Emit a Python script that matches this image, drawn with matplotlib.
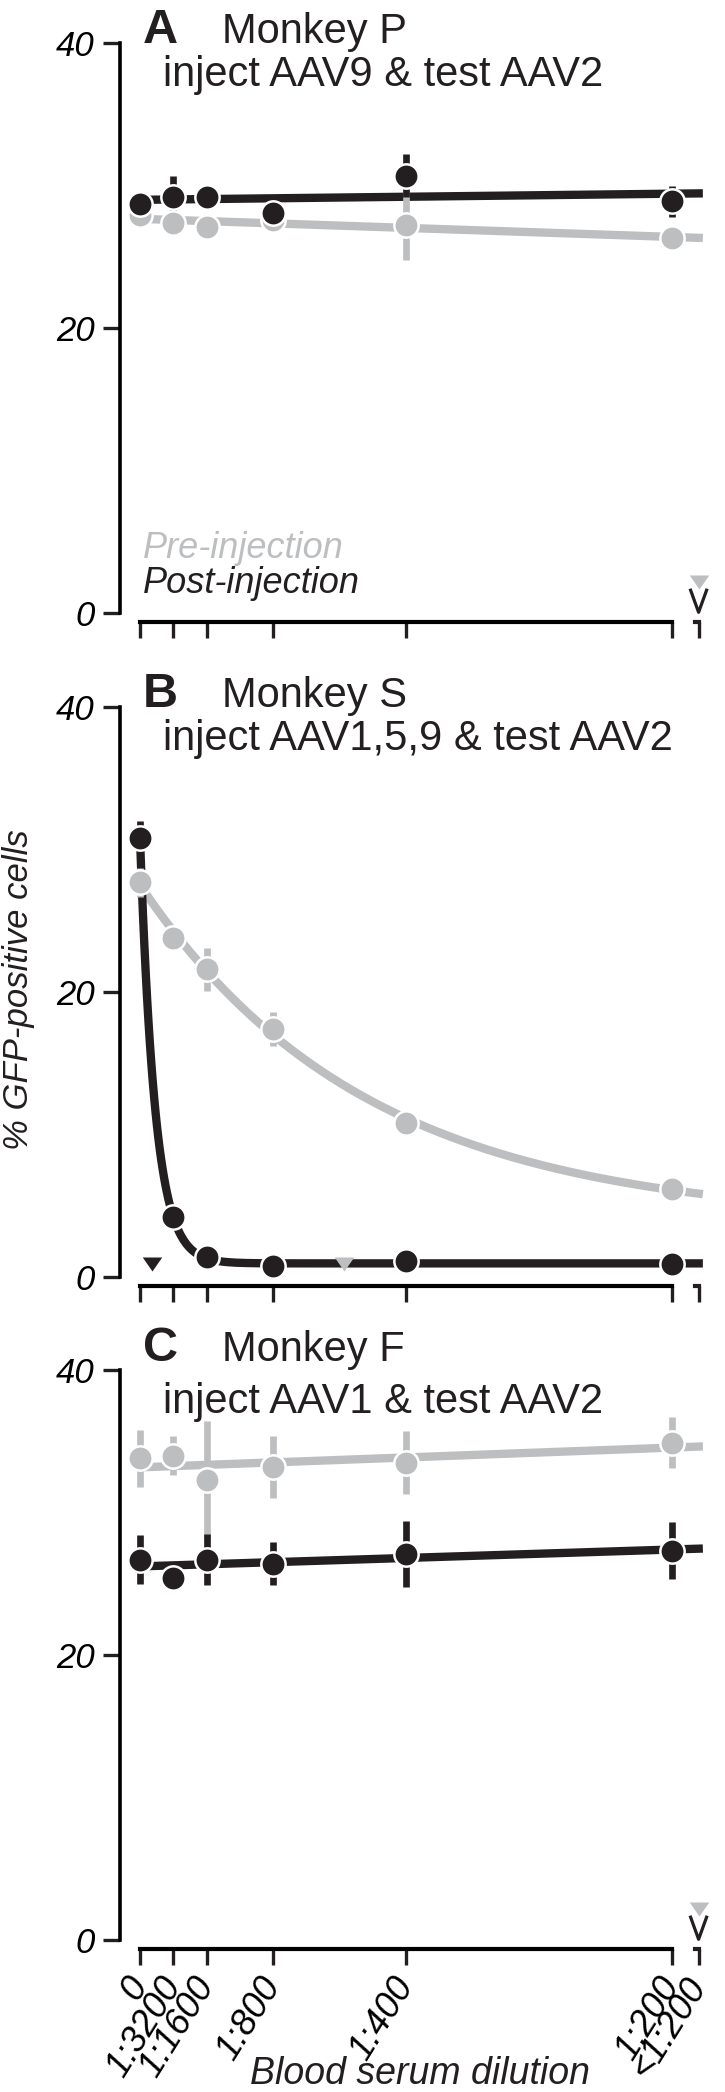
import matplotlib
matplotlib.use("Agg")
import matplotlib.pyplot as plt
import matplotlib.transforms as mtransforms
import numpy as np

plt.rcParams['font.family'] = ['Liberation Sans', 'DejaVu Sans']

GRAY = '#bcbec0'
BLACK = '#231f20'

# serum concentration, as a fraction of the 1:200 dilution
conc = [0, 1/16, 1/8, 1/4, 1/2, 1]
tick_pos = [0, 1/16, 1/8, 1/4, 1/2, 1, 1.05]
tick_labels = ['0', '1:3200', '1:1600', '1:800', '1:400', '1:200', '<1:200']

titles = ['A', 'B', 'C']
monkeys = ['Monkey P', 'Monkey S', 'Monkey F']
subtitles = ['inject AAV9 & test AAV2',
             'inject AAV1,5,9 & test AAV2',
             'inject AAV1 & test AAV2']

# % GFP-positive cells, pre-injection serum (gray)
pre_P = [27.9, 27.4, 27.1, 27.6, 27.2, 26.3]
pre_P_err = [0.4, 0.4, 0.4, 0.4, 2.4, 0.4]
pre_S = [27.7, 23.8, 21.6, 17.4, 10.8, 6.2]
pre_S_err = [1.0, 0.8, 1.5, 1.2, 0.4, 0.4]
pre_F = [33.8, 34.0, 32.3, 33.2, 33.5, 34.9]
pre_F_err = [2.0, 1.4, 4.1, 2.2, 2.2, 1.8]

# % GFP-positive cells, post-injection serum (black)
post_P = [28.7, 29.2, 29.2, 28.1, 30.7, 28.9]
post_P_err = [0.3, 1.5, 0.3, 1.1, 1.5, 1.1]
post_S = [30.8, 4.2, 1.4, 0.8, 1.1, 0.9]
post_S_err = [1.2, 0.4, 0.3, 0.3, 0.3, 0.3]
post_F = [26.7, 25.4, 26.7, 26.4, 27.1, 27.3]
post_F_err = [1.7, 0.4, 1.8, 1.5, 2.3, 2.0]

# neutralising titer markers (x position, colour, style)
titer_marks = [
    [(1.05, GRAY, 'tri'), (1.05, BLACK, 'chevron')],
    [(0.023, BLACK, 'tri'), (0.384, GRAY, 'tri')],
    [(1.05, GRAY, 'tri'), (1.05, BLACK, 'chevron')],
]

X_END = 1.058


def fit_line(x, y):
    slope, icept = np.polyfit(x, y, 1)
    xx = np.linspace(0, X_END, 200)
    return xx, icept + slope * xx


def fit_decay(x, y):
    x = np.asarray(x, float)
    y = np.asarray(y, float)
    best = None
    for k in np.linspace(0.2, 60, 3000):
        basis = np.column_stack([np.exp(-k * x), np.ones_like(x)])
        coef = np.linalg.lstsq(basis, y, rcond=None)[0]
        err = np.sum((basis @ coef - y) ** 2)
        if best is None or err < best[0]:
            best = (err, k, coef)
    _, k, (a, c) = best
    xx = np.linspace(0, X_END, 400)
    return xx, a * np.exp(-k * xx) + c


def draw_series(ax, y, yerr, color, fit):
    xx, yy = fit(conc, y)
    ax.plot(xx, yy, color=color, lw=6, solid_capstyle='butt', zorder=2, clip_on=False)
    ax.errorbar(conc, y, yerr=yerr, fmt='none', ecolor=color, elinewidth=4.8,
                capsize=0, zorder=3, clip_on=False)
    ax.plot(conc, y, 'o', color=color, ms=17.5, mec='white', mew=1.8, zorder=4, clip_on=False)


tri = [(-1, 0.72), (1, 0.72), (0, -0.72)]

fig = plt.figure(figsize=(7.25, 20.92), dpi=100)
W, H = 725, 2092
left_px, right_px = 120, 712
zero_px = [613, 1277, 1940]
scale = 14.25  # px per % unit
xmin = -20 / 532
xmax = (right_px - 140) / 532
# per-label nudge of the rotated x tick labels, in pixels
label_dx = [-9, 10, 22, 21, 19, 2, 23]

panels = [
    (pre_P, pre_P_err, post_P, post_P_err, fit_line),
    (pre_S, pre_S_err, post_S, post_S_err, fit_decay),
    (pre_F, pre_F_err, post_F, post_F_err, fit_line),
]

for i, (pre, pre_err, post, post_err, fit) in enumerate(panels):
    bottom = H - zero_px[i]
    ax = fig.add_axes([left_px / W, bottom / H, (right_px - left_px) / W, 40 * scale / H])
    ax.set_xlim(xmin, xmax)
    ax.set_ylim(0, 40)

    draw_series(ax, pre, pre_err, GRAY, fit)
    draw_series(ax, post, post_err, BLACK, fit)

    for xm, col, kind in titer_marks[i]:
        if kind == 'tri':
            yc = 2.15 if xm > 1 else 0.9
            ax.plot([xm], [yc], marker=tri, color=col, ms=14, mew=0, zorder=5, clip_on=False)
        else:
            d = 0.015
            ax.plot([xm - d, xm, xm + d], [1.6, 0.05, 1.6], color=col, lw=2.3,
                    zorder=5, clip_on=False)

    for side in ['top', 'right']:
        ax.spines[side].set_visible(False)
    ax.spines['left'].set_bounds(0, 40)
    ax.spines['left'].set_linewidth(2.6)
    ax.spines['bottom'].set_position(('outward', 6.5))
    ax.spines['bottom'].set_bounds(0, 1)
    ax.spines['bottom'].set_linewidth(3.0)
    # short broken piece of the x axis for "<1:200"
    ax.plot([1.043, 1.05], [0, 0], color=BLACK, lw=3.0, solid_capstyle='projecting',
            transform=ax.spines['bottom'].get_spine_transform(), clip_on=False)

    ax.set_yticks([0, 20, 40])
    ax.set_yticklabels(['0', '20', '40'], fontsize=25, fontstyle='italic')
    ax.tick_params(axis='y', length=12, width=2.4, pad=6, color=BLACK)
    ax.set_xticks(tick_pos)
    if i == 2:
        labels = ax.set_xticklabels(tick_labels, fontsize=26, fontstyle='italic', rotation=58,
                                    ha='right', va='center', rotation_mode='anchor')
        for lab, dx in zip(labels, label_dx):
            shift = mtransforms.ScaledTranslation(dx / 100, 0, fig.dpi_scale_trans)
            lab.set_transform(lab.get_transform() + shift)
        ax.tick_params(axis='x', length=11.5, width=2.4, pad=11, color=BLACK)
    else:
        ax.set_xticklabels([])
        ax.tick_params(axis='x', length=11.5, width=2.4, color=BLACK)

    head_y = 40 if i < 2 else 40.6
    ax.text(0.006, head_y, titles[i], fontsize=35, fontweight='bold', color=BLACK,
            va='baseline', clip_on=False)
    ax.text(0.154, head_y, monkeys[i], fontsize=30, color=BLACK, va='baseline', clip_on=False)
    ax.text(0.043, 37.0, subtitles[i], fontsize=30, color=BLACK, va='baseline', clip_on=False)

    if i == 0:
        ax.text(0.006, 3.86, 'Pre-injection', fontsize=26, fontstyle='italic', color=GRAY,
                va='baseline')
        ax.text(0.006, 1.40, 'Post-injection', fontsize=26, fontstyle='italic', color=BLACK,
                va='baseline')

fig.text(19 / W, (H - 990) / H, '% GFP-positive cells', rotation=90, fontsize=25,
         fontstyle='italic', ha='center', va='center', color=BLACK)
fig.text(420 / W, 8 / H, 'Blood serum dilution', fontsize=27, fontstyle='italic',
         ha='center', va='baseline', color=BLACK)

fig.savefig('out.png', dpi=100)
